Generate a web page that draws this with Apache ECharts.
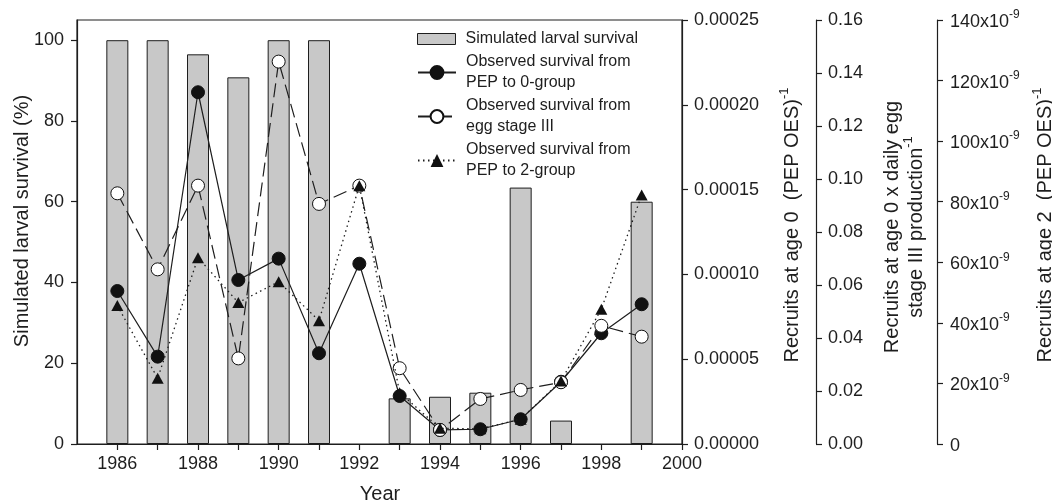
<!DOCTYPE html>
<html>
<head>
<meta charset="utf-8">
<script src="https://cdn.jsdelivr.net/npm/echarts@6/dist/echarts.min.js"></script>
<style>html,body{margin:0;padding:0;background:#fff}#c{width:1052px;height:504px}</style>
</head>
<body>
<div id="c"></div>
<script>
// ---- data ----
const years = [1986, 1987, 1988, 1989, 1990, 1991, 1992, 1993, 1994, 1995, 1996, 1997, 1998, 1999];
const simulatedSurvival = [100, 100, 96.5, 90.8, 100, 100, null, 11.3, 11.7, 12.7, 63.5, 5.8, null, 60.0];
const pepTo0Group = [9.02e-5, 5.15e-5, 2.074e-4, 9.67e-5, 1.093e-4, 5.35e-5, 1.063e-4, 2.83e-5, 8.3e-6, 8.7e-6, 1.46e-5, 3.67e-5, 6.53e-5, 8.24e-5];
const eggStageIII = [0.0946, 0.0659, 0.0975, 0.0323, 0.1443, 0.0906, 0.0975, 0.0286, 0.0053, 0.0170, 0.0204, 0.0233, 0.0446, 0.0405];
const pepTo2GroupE9 = [45.7, 21.7, 61.5, 46.7, 53.6, 40.7, 85.3, 16.9, 5.2, 5.0, 8.2, 20.8, 44.5, 82.2]; // units of 1e-9
const xTickYears = [1986, 1987, 1988, 1989, 1990, 1991, 1992, 1993, 1994, 1995, 1996, 1997, 1998, 1999, 2000];
const xLabelYears = [1986, 1988, 1990, 1992, 1994, 1996, 1998, 2000];
const leftTicks = [0, 20, 40, 60, 80, 100];

const seriesNames = ['Simulated larval survival', 'Observed survival from\nPEP to 0-group', 'Observed survival from\negg stage III', 'Observed survival from\nPEP to 2-group'];

const FONT = 'Liberation Sans, Arial, Helvetica, sans-serif';
const INK = '#1e1e1e';
const pairs = arr => years.map((y, i) => [y, arr[i]]);

const axisCommon = {
  axisLine: { show: true, onZero: false, lineStyle: { color: INK, width: 1.2 } },
  axisTick: { show: true, inside: false, length: 6, lineStyle: { color: INK, width: 1.2 } },
  splitLine: { show: false },
  axisLabel: { color: INK, fontFamily: FONT, fontSize: 18 }
};

const chart = echarts.init(document.getElementById('c'), null, { renderer: 'canvas' });
const option = {
  backgroundColor: '#fff',
  animation: false,
  textStyle: { fontFamily: FONT },
  grid: { left: 77, right: 370, top: 20, bottom: 60, show: true, borderColor: INK, borderWidth: 1.2, backgroundColor: 'transparent', containLabel: false, outerBoundsMode: 'none' },
  xAxis: {
    type: 'value', min: 1985, max: 2000, interval: 1,
    ...axisCommon,
    axisTick: { ...axisCommon.axisTick, customValues: xTickYears },
    axisLabel: { ...axisCommon.axisLabel, margin: 11, customValues: xLabelYears, formatter: v => String(v) }
  },
  yAxis: [
    {
      type: 'value', position: 'left', min: 0, max: 105,
      ...axisCommon,
      axisTick: { ...axisCommon.axisTick, customValues: leftTicks },
      axisLabel: { ...axisCommon.axisLabel, margin: 13, customValues: leftTicks, formatter: v => String(v) }
    },
    {
      type: 'value', position: 'right', offset: 0, min: 0, max: 0.00025, interval: 0.00005,
      ...axisCommon,
      axisLabel: { ...axisCommon.axisLabel, margin: 12, showMaxLabel: true, showMinLabel: true, formatter: v => v.toFixed(5) }
    },
    {
      type: 'value', position: 'right', offset: 134, min: 0, max: 0.16, interval: 0.02,
      ...axisCommon,
      axisLabel: { ...axisCommon.axisLabel, margin: 12, showMaxLabel: true, showMinLabel: true, formatter: v => v.toFixed(2) }
    },
    {
      type: 'value', position: 'right', offset: 255, min: 0, max: 140, interval: 20,
      ...axisCommon,
      axisLabel: {
        ...axisCommon.axisLabel, margin: 13, showMaxLabel: true, showMinLabel: true,
        formatter: v => v === 0 ? '{b|0}' : '{b|' + v + 'x10}{s|-9}',
        rich: {
          b: { fontSize: 18, fontFamily: FONT, color: INK, verticalAlign: 'bottom', lineHeight: 22 },
          s: { fontSize: 12, fontFamily: FONT, color: INK, verticalAlign: 'top', lineHeight: 22, padding: [0, 0, 9, 0] }
        }
      }
    }
  ],
  legend: [
    {
      orient: 'vertical', left: 417, top: 28.5, padding: 0, itemWidth: 38, itemHeight: 11, itemGap: 2,
      textStyle: { fontSize: 16, lineHeight: 21, color: INK, fontFamily: FONT, padding: [0, 0, 0, 5] },
      data: [{ name: seriesNames[0], icon: 'rect', itemStyle: { color: '#c8c8c8', borderColor: INK, borderWidth: 1 } }],
      selectedMode: false
    },
    {
      orient: 'vertical', left: 417, top: 51.5, padding: 0, itemWidth: 38, itemHeight: 16, itemGap: 2,
      textStyle: { fontSize: 16, lineHeight: 21, color: INK, fontFamily: FONT, padding: [0, 0, 0, 5] },
      data: [seriesNames[1], seriesNames[2], seriesNames[3]],
      selectedMode: false
    }
  ],
  series: [
    {
      name: seriesNames[0], type: 'bar', xAxisIndex: 0, yAxisIndex: 0, barWidth: 22,
      data: pairs(simulatedSurvival),
      itemStyle: { color: '#c8c8c8', borderColor: INK, borderWidth: 1 },
      z: 1
    },
    {
      name: seriesNames[1], type: 'line', yAxisIndex: 1, data: pairs(pepTo0Group),
      symbol: 'circle', symbolSize: 13, showAllSymbol: true,
      lineStyle: { color: INK, width: 1.2, type: 'solid' },
      itemStyle: { color: '#111', borderColor: '#111', borderWidth: 1 },
      z: 3
    },
    {
      name: seriesNames[2], type: 'line', yAxisIndex: 2, data: pairs(eggStageIII),
      symbol: 'circle', symbolSize: 13, showAllSymbol: true,
      lineStyle: { color: INK, width: 1.2, type: [14, 6] },
      itemStyle: { color: '#fff', borderColor: '#111', borderWidth: 1 },
      z: 4
    },
    {
      name: seriesNames[3], type: 'line', yAxisIndex: 3, data: pairs(pepTo2GroupE9),
      symbol: 'triangle', symbolSize: [12, 11], showAllSymbol: true,
      lineStyle: { color: INK, width: 1.3, type: [1.5, 3.5] },
      itemStyle: { color: '#111', borderColor: '#111', borderWidth: 0 },
      z: 5
    }
  ],
  graphic: [
    {
      type: 'text', x: 22, y: 221, rotation: Math.PI / 2,
      style: { text: 'Simulated larval survival (%)', font: '20px ' + FONT, fill: INK, align: 'center', verticalAlign: 'middle' }
    },
    {
      type: 'text', x: 380, y: 494,
      style: { text: 'Year', font: '20px ' + FONT, fill: INK, align: 'center', verticalAlign: 'middle' }
    },
    {
      type: 'text', x: 790, y: 225, rotation: Math.PI / 2,
      style: {
        text: '{b|Recruits at age 0  (PEP OES)}{s|-1}', align: 'center', verticalAlign: 'middle',
        rich: {
          b: { fontSize: 20, fontFamily: FONT, fill: INK, color: INK, verticalAlign: 'bottom', lineHeight: 24 },
          s: { fontSize: 13, fontFamily: FONT, fill: INK, color: INK, verticalAlign: 'top', lineHeight: 24, padding: [0, 0, 10, 0] }
        }
      }
    },
    {
      type: 'text', x: 902, y: 227, rotation: Math.PI / 2,
      style: {
        text: '{b|Recruits at age 0 x daily egg}\n{b|stage III production}{s|-1}', align: 'center', verticalAlign: 'middle',
        rich: {
          b: { fontSize: 20, fontFamily: FONT, fill: INK, color: INK, verticalAlign: 'bottom', lineHeight: 24 },
          s: { fontSize: 13, fontFamily: FONT, fill: INK, color: INK, verticalAlign: 'top', lineHeight: 24, padding: [0, 0, 10, 0] }
        }
      }
    },
    {
      type: 'text', x: 1043, y: 225, rotation: Math.PI / 2,
      style: {
        text: '{b|Recruits at age 2  (PEP OES)}{s|-1}', align: 'center', verticalAlign: 'middle',
        rich: {
          b: { fontSize: 20, fontFamily: FONT, fill: INK, color: INK, verticalAlign: 'bottom', lineHeight: 24 },
          s: { fontSize: 13, fontFamily: FONT, fill: INK, color: INK, verticalAlign: 'top', lineHeight: 24, padding: [0, 0, 10, 0] }
        }
      }
    }
  ]
};
chart.setOption(option);
</script>
</body>
</html>
